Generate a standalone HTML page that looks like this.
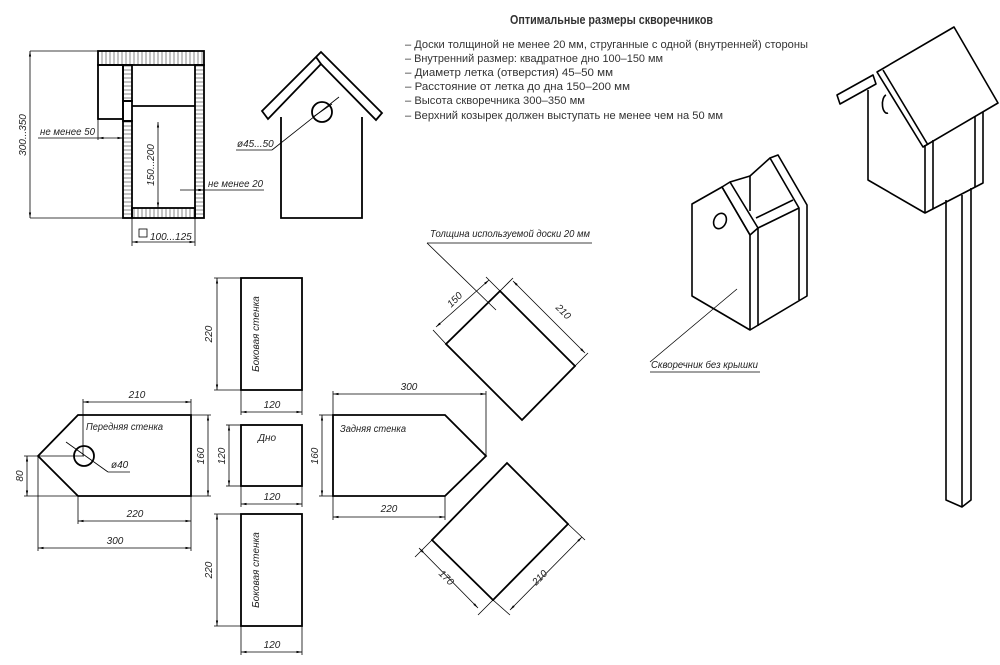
<!DOCTYPE html>
<html><head><meta charset="utf-8"><style>
html,body{margin:0;padding:0;background:#fff;}
svg{display:block;}
text{font-family:"Liberation Sans","DejaVu Sans",sans-serif;font-style:italic;fill:#222;}
text.n{font-style:normal;fill:#333;}
</style></head><body>
<svg width="1000" height="665" viewBox="0 0 1000 665" xmlns="http://www.w3.org/2000/svg">
<defs>
<marker id="a" viewBox="0 0 10 10" refX="10" refY="5" markerWidth="7" markerHeight="7" orient="auto-start-reverse"><path d="M0,3 L10,5 L0,7 z" fill="#000"/></marker>
<pattern id="h" width="6" height="4" patternUnits="userSpaceOnUse"><path d="M0,2 H6" stroke="#555" stroke-width="0.7"/></pattern>
<pattern id="v" width="4" height="6" patternUnits="userSpaceOnUse"><path d="M2,0 V6" stroke="#555" stroke-width="0.7"/></pattern>
</defs>
<g fill="none" stroke="#000">
<g stroke-width="1.8">
<rect x="98" y="51" width="106" height="14" fill="url(#v)"/>
<rect x="123" y="65" width="9" height="36" fill="url(#h)"/>
<rect x="123" y="121" width="9" height="97" fill="url(#h)"/>
<rect x="123" y="101" width="9" height="20"/>
<rect x="195" y="65" width="9" height="153" fill="url(#h)"/>
<rect x="132" y="208" width="63" height="10" fill="url(#v)"/>
<rect x="98" y="65" width="25" height="54"/>
<line x1="132" y1="106" x2="195" y2="106"/>
</g>
<g stroke-width="0.8">
<line x1="30" y1="51" x2="98" y2="51"/><line x1="30" y1="218" x2="123" y2="218"/>
<line x1="30" y1="51" x2="30" y2="218" marker-start="url(#a)" marker-end="url(#a)"/>
<line x1="38" y1="138" x2="98" y2="138"/>
<line x1="98" y1="119" x2="98" y2="140"/>
<line x1="98" y1="138" x2="123" y2="138" marker-start="url(#a)" marker-end="url(#a)"/>
<line x1="158" y1="122" x2="158" y2="208" marker-start="url(#a)" marker-end="url(#a)"/>
<line x1="180" y1="190" x2="264" y2="190"/>
<line x1="195" y1="190" x2="204" y2="190" marker-start="url(#a)" marker-end="url(#a)"/>
<line x1="132" y1="218" x2="132" y2="246"/><line x1="195" y1="218" x2="195" y2="246"/>
<line x1="132" y1="242" x2="195" y2="242" marker-start="url(#a)" marker-end="url(#a)"/>
</g>
<rect x="139" y="229" width="8" height="8" stroke-width="0.8"/>
<g stroke-width="1.8">
<polyline points="281,117 281,218 362,218 362,117"/>
<polygon points="262,111 321,52 382,113 376,120 321,64 268,119"/>
<line x1="316" y1="57" x2="321" y2="64"/>
<circle cx="322" cy="112" r="10"/>
</g>
<g stroke-width="0.8"><line x1="339" y1="97" x2="272" y2="150"/><line x1="272" y1="150" x2="236" y2="150"/><line x1="313" y1="117" x2="332" y2="104"/></g>
<g stroke-width="1.8">
<rect x="241" y="278" width="61" height="112"/>
<rect x="241" y="425" width="61" height="61"/>
<rect x="241" y="514" width="61" height="112"/>
<polygon points="38,456 78,415 191,415 191,496 78,496"/>
<circle cx="84" cy="456" r="10"/>
<polygon points="333,415 445,415 486,456 445,496 333,496"/>
<polygon points="500,291 575,366 522,420 446,344"/>
<polygon points="507,463 568,524 493,600 432,540"/>
</g>
<g stroke-width="0.8">
<line x1="214" y1="278" x2="241" y2="278"/><line x1="214" y1="390" x2="241" y2="390"/>
<line x1="217" y1="278" x2="217" y2="390" marker-start="url(#a)" marker-end="url(#a)"/>
<line x1="241" y1="390" x2="241" y2="415"/><line x1="302" y1="390" x2="302" y2="415"/>
<line x1="241" y1="412" x2="302" y2="412" marker-start="url(#a)" marker-end="url(#a)"/>
<line x1="226" y1="425" x2="241" y2="425"/><line x1="226" y1="486" x2="241" y2="486"/>
<line x1="229" y1="425" x2="229" y2="486" marker-start="url(#a)" marker-end="url(#a)"/>
<line x1="241" y1="486" x2="241" y2="507"/><line x1="302" y1="486" x2="302" y2="507"/>
<line x1="241" y1="504" x2="302" y2="504" marker-start="url(#a)" marker-end="url(#a)"/>
<line x1="214" y1="514" x2="241" y2="514"/><line x1="214" y1="626" x2="241" y2="626"/>
<line x1="217" y1="514" x2="217" y2="626" marker-start="url(#a)" marker-end="url(#a)"/>
<line x1="241" y1="626" x2="241" y2="655"/><line x1="302" y1="626" x2="302" y2="655"/>
<line x1="241" y1="652" x2="302" y2="652" marker-start="url(#a)" marker-end="url(#a)"/>
<line x1="83" y1="399" x2="83" y2="456"/><line x1="191" y1="399" x2="191" y2="415"/>
<line x1="83" y1="402" x2="191" y2="402" marker-start="url(#a)" marker-end="url(#a)"/>
<line x1="191" y1="415" x2="211" y2="415"/><line x1="191" y1="496" x2="211" y2="496"/>
<line x1="208" y1="415" x2="208" y2="496" marker-start="url(#a)" marker-end="url(#a)"/>
<line x1="24" y1="456" x2="84" y2="456"/><line x1="24" y1="496" x2="78" y2="496"/>
<line x1="27" y1="456" x2="27" y2="496" marker-start="url(#a)" marker-end="url(#a)"/>
<line x1="78" y1="496" x2="78" y2="524"/><line x1="191" y1="496" x2="191" y2="551"/>
<line x1="78" y1="521" x2="191" y2="521" marker-start="url(#a)" marker-end="url(#a)"/>
<line x1="38" y1="456" x2="38" y2="551"/>
<line x1="38" y1="548" x2="191" y2="548" marker-start="url(#a)" marker-end="url(#a)"/>
<line x1="66" y1="442" x2="108" y2="472"/><line x1="108" y1="472" x2="130" y2="472"/>
<line x1="333" y1="391" x2="333" y2="415"/><line x1="486" y1="391" x2="486" y2="456"/>
<line x1="333" y1="394" x2="486" y2="394" marker-start="url(#a)" marker-end="url(#a)"/>
<line x1="319" y1="415" x2="333" y2="415"/><line x1="319" y1="496" x2="333" y2="496"/>
<line x1="322" y1="415" x2="322" y2="496" marker-start="url(#a)" marker-end="url(#a)"/>
<line x1="333" y1="496" x2="333" y2="520"/><line x1="445" y1="496" x2="445" y2="520"/>
<line x1="333" y1="517" x2="445" y2="517" marker-start="url(#a)" marker-end="url(#a)"/>
<line x1="446" y1="344" x2="433" y2="330"/><line x1="500" y1="291" x2="486" y2="277"/>
<line x1="436" y1="327" x2="489" y2="280" marker-start="url(#a)" marker-end="url(#a)"/>
<line x1="500" y1="291" x2="513" y2="278"/><line x1="575" y1="366" x2="588" y2="353"/>
<line x1="513" y1="281" x2="585" y2="353" marker-start="url(#a)" marker-end="url(#a)"/>
<line x1="427" y1="243" x2="592" y2="243"/><line x1="427" y1="243" x2="496" y2="310"/>
<line x1="432" y1="540" x2="415" y2="557"/><line x1="493" y1="600" x2="478" y2="615"/>
<line x1="419" y1="548" x2="478" y2="608" marker-start="url(#a)" marker-end="url(#a)"/>
<line x1="568" y1="524" x2="585" y2="540"/><line x1="493" y1="600" x2="510" y2="615"/>
<line x1="582" y1="537" x2="510" y2="610" marker-start="url(#a)" marker-end="url(#a)"/>
<line x1="737" y1="289" x2="650" y2="362"/><line x1="650" y1="372" x2="760" y2="372"/>
</g>
<g stroke-width="1.6" stroke-linejoin="round">
<polygon points="692,204 722,187 750,235 750,330 692,296"/>
<polygon points="722,187 730,182 758,228 750,235"/>
<line x1="758" y1="228" x2="758" y2="326"/>
<polyline points="750,330 807,296 807,205 778,155 770,158 799,208 799,300"/>
<line x1="758" y1="228" x2="799" y2="208"/>
<line x1="756" y1="218" x2="793" y2="200"/>
<polyline points="730,182 750,176 750,211"/>
<line x1="750" y1="176" x2="770" y2="158"/>
<ellipse cx="720" cy="221" rx="6" ry="8" transform="rotate(25 720 221)"/>
</g>
<g stroke-width="1.6" stroke-linejoin="round">
<polygon points="877,72 954,27 998,103 923,147"/>
<line x1="883" y1="70" x2="928" y2="145"/>
<polygon points="837,95 873,75 876,84 840,104"/>
<polyline points="868,90 868,180 925,213 983,183 983,112"/>
<line x1="925" y1="145" x2="925" y2="213"/>
<line x1="933" y1="140" x2="933" y2="209"/>
<line x1="975" y1="116" x2="975" y2="187"/>
<polyline points="946,200 946,500 962,507 971,500 971,188"/>
<line x1="962" y1="195" x2="962" y2="507"/>
<path d="M886,95 a4,8 0 0 0 2,18"/>
</g>
</g>
<text class="n" x="510" y="24" font-size="12.5" font-weight="bold" textLength="203" lengthAdjust="spacingAndGlyphs">Оптимальные размеры скворечников</text>
<g font-size="11">
<text class="n" x="405" y="48" textLength="403" lengthAdjust="spacingAndGlyphs">– Доски толщиной не менее 20 мм, струганные с одной (внутренней) стороны</text>
<text class="n" x="405" y="62" textLength="258" lengthAdjust="spacingAndGlyphs">– Внутренний размер: квадратное дно 100–150 мм</text>
<text class="n" x="405" y="76" textLength="208" lengthAdjust="spacingAndGlyphs">– Диаметр летка (отверстия) 45–50 мм</text>
<text class="n" x="405" y="90" textLength="225" lengthAdjust="spacingAndGlyphs">– Расстояние от летка до дна 150–200 мм</text>
<text class="n" x="405" y="104" textLength="180" lengthAdjust="spacingAndGlyphs">– Высота скворечника 300–350 мм</text>
<text class="n" x="405" y="119" textLength="318" lengthAdjust="spacingAndGlyphs">– Верхний козырек должен выступать не менее чем на 50 мм</text>
</g>
<g font-size="10">
<text x="26" y="135" transform="rotate(-90 26 135)" text-anchor="middle">300...350</text>
<text x="40" y="135" textLength="55" lengthAdjust="spacingAndGlyphs">не менее 50</text>
<text x="154" y="165" transform="rotate(-90 154 165)" text-anchor="middle">150...200</text>
<text x="208" y="187" textLength="55" lengthAdjust="spacingAndGlyphs">не менее 20</text>
<text x="150" y="240">100...125</text>
<text x="237" y="147">ø45...50</text>
<text x="212" y="334" transform="rotate(-90 212 334)" text-anchor="middle">220</text>
<text x="259" y="334" transform="rotate(-90 259 334)" text-anchor="middle">Боковая стенка</text>
<text x="272" y="408" text-anchor="middle">120</text>
<text x="258" y="441">Дно</text>
<text x="225" y="456" transform="rotate(-90 225 456)" text-anchor="middle">120</text>
<text x="272" y="500" text-anchor="middle">120</text>
<text x="212" y="570" transform="rotate(-90 212 570)" text-anchor="middle">220</text>
<text x="259" y="570" transform="rotate(-90 259 570)" text-anchor="middle">Боковая стенка</text>
<text x="272" y="648" text-anchor="middle">120</text>
<text x="86" y="430" textLength="77" lengthAdjust="spacingAndGlyphs">Передняя стенка</text>
<text x="111" y="468">ø40</text>
<text x="137" y="398" text-anchor="middle">210</text>
<text x="204" y="456" transform="rotate(-90 204 456)" text-anchor="middle">160</text>
<text x="23" y="476" transform="rotate(-90 23 476)" text-anchor="middle">80</text>
<text x="135" y="517" text-anchor="middle">220</text>
<text x="115" y="544" text-anchor="middle">300</text>
<text x="340" y="432" textLength="66" lengthAdjust="spacingAndGlyphs">Задняя стенка</text>
<text x="409" y="390" text-anchor="middle">300</text>
<text x="318" y="456" transform="rotate(-90 318 456)" text-anchor="middle">160</text>
<text x="389" y="512" text-anchor="middle">220</text>
<text x="430" y="237" textLength="160" lengthAdjust="spacingAndGlyphs">Толщина используемой доски 20 мм</text>
<text x="457" y="302" transform="rotate(-45 457 302)" text-anchor="middle">150</text>
<text x="561" y="314" transform="rotate(45 561 314)" text-anchor="middle">210</text>
<text x="444" y="580" transform="rotate(45 444 580)" text-anchor="middle">170</text>
<text x="542" y="580" transform="rotate(-45 542 580)" text-anchor="middle">210</text>
<text x="651" y="368" textLength="107" lengthAdjust="spacingAndGlyphs">Скворечник без крышки</text>
</g>
</svg>
</body></html>
